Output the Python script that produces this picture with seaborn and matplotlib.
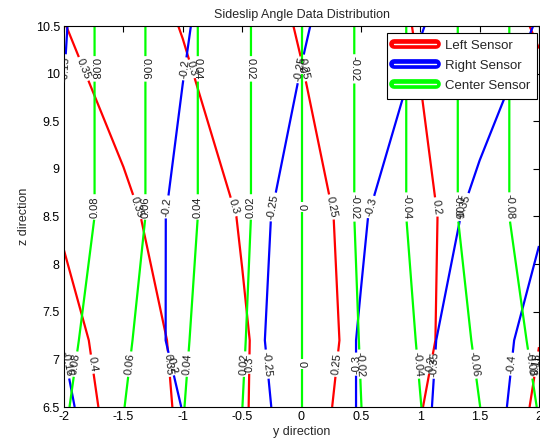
import matplotlib
matplotlib.use("Agg")
import matplotlib.pyplot as plt
import numpy as np
import seaborn as sns
from matplotlib.lines import Line2D

# grid nodes (y direction = horizontal, z direction = vertical)
y_nodes = [-2.0, -1.5, -1.0, -0.5, 0.0, 0.5, 1.0, 1.5, 2.0]
z_nodes = [6.5, 7.2, 8.5, 10.5]

# sideslip angle values at the nodes (rows follow z_nodes)
left_sensor = [
    [0.4234, 0.3830, 0.3430, 0.3040, 0.2676, 0.2335, 0.2013, 0.1733, 0.1456],
    [0.4160, 0.3777, 0.3400, 0.3043, 0.2707, 0.2383, 0.2074, 0.1784, 0.1505],
    [0.3940, 0.3590, 0.3280, 0.2970, 0.2660, 0.2364, 0.2082, 0.1800, 0.1800],
    [0.3510, 0.3245, 0.2980, 0.2722, 0.2465, 0.2215, 0.1965, 0.1712, 0.1460],
]
right_sensor = [
    [-0.1450, -0.1728, -0.2007, -0.2333, -0.2673, -0.3029, -0.3422, -0.3818, -0.4214],
    [-0.1510, -0.1795, -0.2083, -0.2379, -0.2695, -0.3027, -0.3398, -0.3778, -0.4160],
    [-0.1533, -0.1805, -0.2078, -0.2357, -0.2651, -0.2961, -0.3281, -0.3603, -0.3950],
    [-0.1486, -0.1726, -0.1966, -0.2214, -0.2462, -0.2720, -0.2980, -0.3253, -0.3527],
]
center_sensor = [
    [0.0820, 0.0604, 0.0406, 0.0201, 0.0, -0.0198, -0.0396, -0.0598, -0.0808],
    [0.0856, 0.0632, 0.0424, 0.0213, 0.0, -0.0207, -0.0416, -0.0630, -0.0845],
    [0.0922, 0.0685, 0.0456, 0.0235, 0.0, -0.0225, -0.0454, -0.0685, -0.0915],
    [0.0922, 0.0685, 0.0456, 0.0235, 0.0, -0.0225, -0.0454, -0.0685, -0.0915],
]

left_levels = [0.15, 0.2, 0.25, 0.3, 0.35, 0.4]
right_levels = [-0.4, -0.35, -0.3, -0.25, -0.2, -0.15]
center_levels = [-0.08, -0.06, -0.04, -0.02, 0.0, 0.02, 0.04, 0.06, 0.08]

sensor_names = ["Left Sensor", "Right Sensor", "Center Sensor"]
sensor_colors = ["#ff0000", "#0000ff", "#00ff00"]

x_ticks = [-2, -1.5, -1, -0.5, 0, 0.5, 1, 1.5, 2]
x_tick_labels = ["-2", "-1.5", "-1", "-0.5", "0", "0.5", "1", "1.5", "2"]
z_ticks = [6.5, 7, 7.5, 8, 8.5, 9, 9.5, 10, 10.5]
z_tick_labels = ["6.5", "7", "7.5", "8", "8.5", "9", "9.5", "10", "10.5"]

sns.set_theme(style="white")
plt.rcParams["font.family"] = ["Liberation Sans", "DejaVu Sans"]

fig = plt.figure(figsize=(5.40, 4.48), dpi=100)
ax = fig.add_axes([64 / 540, 1 - 407 / 448, 475 / 540, 381 / 448])
ax.set_facecolor("white")

ax.set_xlim(-2, 2)
ax.set_ylim(6.5, 10.5)
ax.set_xticks(x_ticks)
ax.set_xticklabels(x_tick_labels)
ax.set_yticks(z_ticks)
ax.set_yticklabels(z_tick_labels)
ax.tick_params(direction="in", length=4, width=0.8, top=True, right=True,
               labelsize=9, colors="black", pad=3)
for sp in ax.spines.values():
    sp.set_color("black")
    sp.set_linewidth(0.8)

ax.set_title("Sideslip Angle Data Distribution", fontsize=9, pad=6)
ax.set_xlabel("y direction", fontsize=9, labelpad=2)
ax.set_ylabel("z direction", fontsize=9, labelpad=4)

handles = [(Line2D([], [], color=c, lw=7, solid_capstyle="round"),
            Line2D([], [], color="white", lw=1))
           for c in sensor_colors]
leg = ax.legend(handles, sensor_names, loc="upper right",
                bbox_to_anchor=(0.996, 0.982), borderaxespad=0,
                fontsize=9.5, frameon=True, fancybox=False, handlelength=3.2,
                borderpad=0.5, labelspacing=0.6, handletextpad=0.7)
leg.get_frame().set_edgecolor("black")
leg.get_frame().set_linewidth(0.8)
leg.get_frame().set_alpha(1)
leg.set_zorder(10)

fig.canvas.draw()
leg_box = leg.get_window_extent().transformed(ax.transData.inverted())

Y, Z = np.meshgrid(np.array(y_nodes), np.array(z_nodes))


def fmt(v):
    r = round(float(v), 2)
    if abs(r) < 1e-9:
        return "0"
    return f"{r:g}"


def hidden_by_legend(p):
    return (leg_box.x0 - 0.08 <= p[0] <= leg_box.x1 + 0.08 and
            leg_box.y0 - 0.25 <= p[1] <= leg_box.y1 + 0.25)


def label_points(cs, heights):
    pts = []
    for segs in cs.allsegs:
        for seg in segs:
            if len(seg) < 2:
                continue
            yy, zz = seg[:, 0], seg[:, 1]
            found = False
            for h in heights:
                for k in range(len(seg) - 1):
                    z0, z1 = zz[k], zz[k + 1]
                    if z0 != z1 and (z0 - h) * (z1 - h) <= 0:
                        t = (h - z0) / (z1 - z0)
                        pts.append((yy[k] + t * (yy[k + 1] - yy[k]), h))
                        found = True
                        break
            if not found:
                m = len(seg) // 2
                pts.append((yy[m], zz[m]))
    return [p for p in pts if not hidden_by_legend(p)]


datasets = [(left_sensor, left_levels), (right_sensor, right_levels),
            (center_sensor, center_levels)]
for (vals, levels), col in zip(datasets, sensor_colors):
    cs = ax.contour(Y, Z, np.array(vals), levels=levels, colors=[col],
                    linewidths=1.6, linestyles="solid")
    pts = label_points(cs, [10.05, 8.6, 6.95])
    ax.clabel(cs, inline=True, inline_spacing=2, fontsize=8, colors="k",
              fmt=fmt, manual=pts)

fig.savefig("out.png", dpi=100)
